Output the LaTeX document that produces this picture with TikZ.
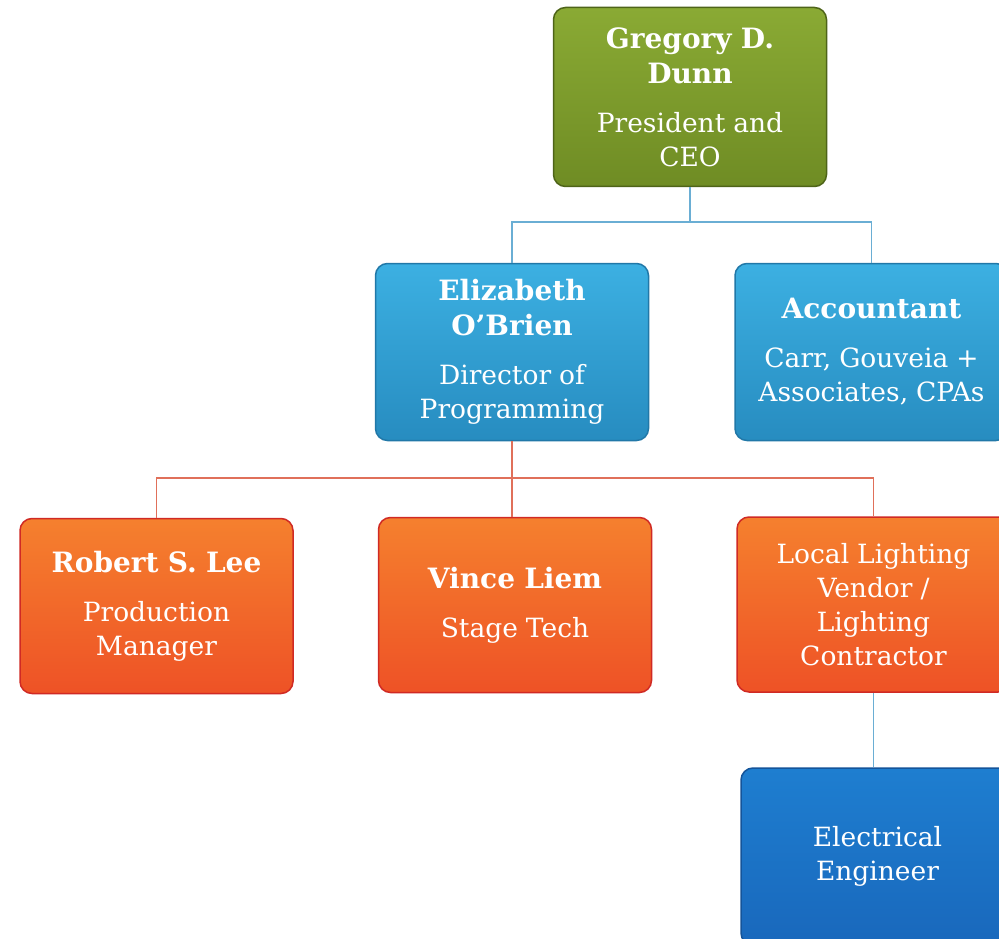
\documentclass[tikz,border=0pt]{standalone}
\usepackage{fontspec}
\setmainfont{DejaVu Serif}
\usetikzlibrary{calc}
\definecolor{gtop}{HTML}{8AAA34}
\definecolor{gbot}{HTML}{6F8C24}
\definecolor{gline}{HTML}{4E6418}
\definecolor{btop}{HTML}{3CB0E2}
\definecolor{bbot}{HTML}{278CC0}
\definecolor{bline}{HTML}{2178A8}
\definecolor{otop}{HTML}{F5802E}
\definecolor{obot}{HTML}{EE5226}
\definecolor{oline}{HTML}{D02A24}
\definecolor{dtop}{HTML}{1E7ED0}
\definecolor{dbot}{HTML}{1968BC}
\definecolor{dline}{HTML}{14549A}
\definecolor{conb}{HTML}{6AAED4}
\definecolor{cono}{HTML}{E0705A}
\tikzset{
  x=1pt,y=-1pt,
  orgbox/.style={rounded corners=12pt, minimum width=273pt, minimum height=177pt,
     text width=268pt, align=center, text=white, line width=1.5pt, inner sep=0pt},
  greenbox/.style={orgbox, top color=gtop, bottom color=gbot, draw=gline},
  bluebox/.style={orgbox, top color=btop, bottom color=bbot, draw=bline},
  orangebox/.style={orgbox, top color=otop, bottom color=obot, draw=oline},
  darkbox/.style={orgbox, top color=dtop, bottom color=dbot, draw=dline},
  bconn/.style={draw=conb, line width=1.4pt},
  oconn/.style={draw=cono, line width=1.3pt},
}
\newcommand{\nm}[1]{{\fontsize{28}{35}\selectfont\bfseries\spaceskip=0.33em\relax #1\par}}
\newcommand{\ttl}[1]{{\fontsize{26.5}{34}\selectfont\spaceskip=0.3em\relax #1\par}}
\newcommand{\gap}{\vspace{15pt}}
\begin{document}
\begin{tikzpicture}
\useasboundingbox (0,0) rectangle (999,939);
\clip (0,0) rectangle (999,939);
\fill[white] (0,0) rectangle (999,939);

\node[greenbox, minimum height=179pt] (ceo) at (690,97)
  {\nm{Gregory D.\\Dunn}\gap\ttl{President and\\CEO}};
\node[bluebox] (eliz) at (512,352)
  {\nm{Elizabeth\\O’Brien}\gap\ttl{Director of\\Programming}};
\node[bluebox] (acct) at (871.5,352)
  {\nm{Accountant}\gap\ttl{Carr, Gouveia +\\Associates, CPAs}};
\node[orangebox, minimum height=175pt] (rob) at (156.5,606)
  {\nm{Robert S. Lee}\gap\ttl{Production\\Manager}};
\node[orangebox, minimum height=175pt] (vince) at (515,605)
  {\nm{Vince Liem}\gap\ttl{Stage Tech}};
\node[orangebox, minimum height=175pt] (light) at (873.5,604.5)
  {\ttl{Local Lighting\\Vendor /\\Lighting\\Contractor}};
\node[darkbox] (elec) at (877.5,856.5)
  {\ttl{Electrical\\Engineer}};

\coordinate (bbus) at (690,222);
\coordinate (obus) at (512,478);
\draw[bconn] (ceo.south) -- (bbus) -| (eliz.north);
\draw[bconn] (bbus) -| (acct.north);
\draw[oconn] (eliz.south) -- (eliz.south |- vince.north);
\draw[oconn] (obus) -| (rob.north);
\draw[oconn] (obus) -| (light.north);
\draw[bconn] (light.south) -- (light.south |- elec.north);
\end{tikzpicture}
\end{document}
